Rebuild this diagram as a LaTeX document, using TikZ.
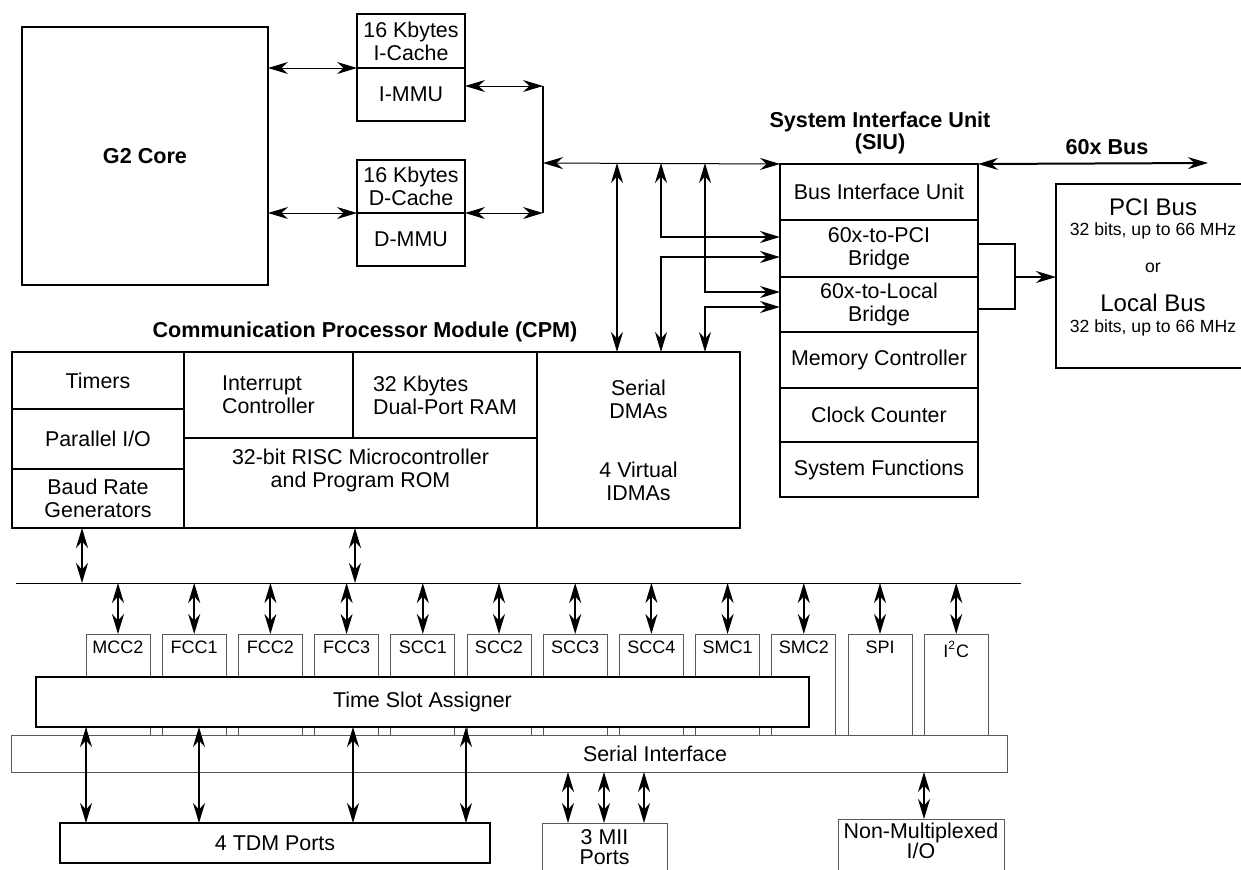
\documentclass[tikz,border=0pt]{standalone}
\usepackage{fontspec}
\setmainfont{Liberation Sans}
\usetikzlibrary{arrows.meta}
\newcommand{\bodyfnt}{\fontsize{10.7}{11.5}\selectfont}
\newcommand{\headfnt}{\fontsize{10.8}{9.5}\selectfont\bfseries}
\newcommand{\portfnt}{\fontsize{9}{10}\selectfont}
\newcommand{\bigfnt}{\fontsize{12}{14}\selectfont}
\newcommand{\smlfnt}{\fontsize{8.8}{10}\selectfont}

\begin{document}
\begin{tikzpicture}[x=0.5pt, y=-0.5pt,
    >={Stealth[length=10pt, width=6pt]},
    blk/.style={draw, line width=1pt, anchor=north west, inner sep=0pt, outer sep=0pt, align=center, font=\bodyfnt},
    lite/.style={draw=black!65, line width=0.5pt, anchor=north west, inner sep=0pt, outer sep=0pt, align=center, font=\bodyfnt},
    port/.style={lite, minimum width=32pt, minimum height=50.5pt},
    portlbl/.style={anchor=north, font=\portfnt},
    conn/.style={<->, line width=1pt},
    fine/.style={<->, line width=0.5pt}]
    \useasboundingbox (0,0) rectangle (1241,869);

    % core and caches
    \node (core) [blk, minimum width=123pt, minimum height=129pt, font=\headfnt] at (22,27) {G2 Core};
    \node (icache) [blk, minimum width=54pt, minimum height=27pt] at (357,14) {16 Kbytes\\I-Cache};
    \node (immu) [blk, minimum width=54pt, minimum height=26.5pt] at (357,68) {I-MMU};
    \node (dcache) [blk, minimum width=54pt, minimum height=26.5pt] at (357,160) {16 Kbytes\\D-Cache};
    \node (dmmu) [blk, minimum width=54pt, minimum height=26.5pt] at (357,213) {D-MMU};

    % system interface unit
    \node (siuhd) [font=\headfnt, align=center] at (880,133) {System Interface Unit\\(SIU)};
    \node (biu) [blk, minimum width=99pt, minimum height=28pt] at (780,164) {Bus Interface Unit};
    \node (pci) [blk, minimum width=99pt, minimum height=28.5pt] at (780,220) {60x-to-PCI\\Bridge};
    \node (local) [blk, minimum width=99pt, minimum height=27.5pt] at (780,277) {60x-to-Local\\Bridge};
    \node (memc) [blk, minimum width=99pt, minimum height=28pt] at (780,332) {Memory Controller};
    \node (clk) [blk, minimum width=99pt, minimum height=27pt] at (780,388) {Clock Counter};
    \node (sysf) [blk, minimum width=99pt, minimum height=27.5pt] at (780,442) {System Functions};

    % PCI / local bus
    \node (pcibus) [blk, minimum width=97pt, minimum height=92pt] at (1056,184) {};
    \node (pcinm) [font=\bigfnt] at (1153,207) {PCI Bus};
    \node (pcispd) [font=\smlfnt] at (1153,231) {32 bits, up to 66 MHz};
    \node (orlbl) [font=\smlfnt] at (1153,268) {or};
    \node (locnm) [font=\bigfnt] at (1153,303) {Local Bus};
    \node (locspd) [font=\smlfnt] at (1153,328) {32 bits, up to 66 MHz};
    \coordinate (bus60) at (1208,163);
    \node (buslbl) [font=\headfnt] at (1107,147) {60x Bus};

    % communication processor module
    \node (cpmhd) [font=\headfnt] at (365,332) {Communication Processor Module (CPM)};
    \node (cpm) [blk, minimum width=364pt, minimum height=88pt] at (12,352) {};
    \node (timers) [blk, minimum width=86pt, minimum height=28.5pt] at (12,352) {Timers};
    \node (pio) [blk, minimum width=86pt, minimum height=30pt] at (12,409) {Parallel I/O};
    \node (brg) [blk, minimum width=86pt, minimum height=29.5pt] at (12,469) {Baud Rate\\Generators};
    \node (intc) [blk, minimum width=84.5pt, minimum height=43pt, align=left] at (184,352) {Interrupt\\Controller};
    \node (dpram) [blk, minimum width=92pt, minimum height=43pt, align=left] at (353,352) {32 Kbytes\\Dual-Port RAM};
    \node (risc) [blk, minimum width=176.5pt, minimum height=45pt, text depth=15pt] at (184,438) {32-bit RISC Microcontroller\\and Program ROM};
    \node (dma) [blk, minimum width=101.5pt, minimum height=88pt] at (537,352) {Serial\\DMAs\\[18pt]4 Virtual\\IDMAs};

    % internal bus and peripherals
    \coordinate (bus) at (16,583);
    \coordinate (busend) at (1021,583);
    \draw[line width=0.5pt] (bus) -- (busend);
    \coordinate (b1) at (82,583);
    \coordinate (b2) at (355,583);
    \draw[conn] (b1 |- cpm.south) -- (b1);
    \draw[conn] (b2 |- cpm.south) -- (b2);

    \foreach \lbl [count=\i from 0] in {MCC2,FCC1,FCC2,FCC3,SCC1,SCC2,SCC3,SCC4,SMC1,SMC2,SPI,{I\textsuperscript{2}C}} {
        \node (port\i) [port, label={[portlbl]north:\lbl}] at (86+76.2*\i,634) {};
        \draw[conn] (port\i.north |- bus) -- (port\i.north);
    }

    \node (si) [lite, fill=white, minimum width=498pt, minimum height=18.5pt] at (11,735) {};
    \node (silbl) [font=\bodyfnt] at (655,754) {Serial Interface};
    \node (tsa) [blk, fill=white, minimum width=386.5pt, minimum height=25pt] at (36,677) {Time Slot Assigner};

    % external ports
    \node (tdm) [blk, minimum width=215pt, minimum height=20pt] at (60,823) {4 TDM Ports};
    \node (mii) [lite, minimum width=62.5pt, minimum height=28.5pt, font=\fontsize{10.7}{10}\selectfont, text depth=4pt] at (542,823) {3 MII\\Ports};
    \node (nmio) [lite, minimum width=83pt, minimum height=30.5pt, font=\fontsize{10.7}{10}\selectfont, text depth=9pt] at (838,819) {Non-Multiplexed\\I/O};
    \foreach \x in {86,199,353,466} {
        \coordinate (t) at (\x,0);
        \draw[conn] (tsa.south -| t) -- (tdm.north -| t);
    }
    \foreach \x in {568,604,644} {
        \coordinate (m) at (\x,0);
        \draw[conn] (si.south -| m) -- (mii.north -| m);
    }
    \coordinate (n) at (924,0);
    \draw[conn] (si.south -| n) -- (nmio.north -| n);

    % core side connections
    \draw[fine] (core.east |- icache.south west) -- (icache.south west);
    \draw[fine] (core.east |- dmmu.north west) -- (dmmu.north west);
    \coordinate (ij) at (543,86);
    \coordinate (dj) at (543,213);
    \coordinate (bj) at (543,163);
    \draw[fine] (immu.east |- ij) -- (ij);
    \draw[fine] (dcache.south east) -- (dj);
    \draw[line width=1pt] (ij) -- (dj);
    \draw[fine] (bj) -- (biu.north west);
    \draw[conn] (biu.north east) -- (bus60);

    % SIU to CPM
    \coordinate (c1) at (617,163);
    \coordinate (c2) at (661,163);
    \coordinate (c3) at (705,163);
    \draw[conn] (c1) -- (c1 |- cpm.north);
    \draw[conn] (c2) |- ([yshift=5.75pt]pci.west);
    \draw[conn] ([yshift=-4.25pt]pci.west) -| (c2 |- cpm.north);
    \draw[conn] (c3) |- ([yshift=6.25pt]local.west);
    \draw[conn] ([yshift=-1.25pt]local.west) -| (c3 |- cpm.north);

    % bridges to PCI box
    \coordinate (mj) at (1015,277);
    \draw[line width=1pt] ([yshift=2.25pt]pci.east) -| (mj) |- ([yshift=-2.25pt]local.east);
    \draw[->, line width=1pt] (mj) -- (mj -| pcibus.west);
\end{tikzpicture}
\end{document}
